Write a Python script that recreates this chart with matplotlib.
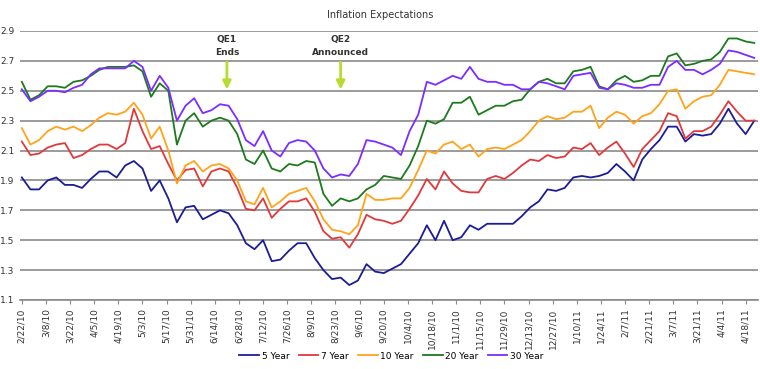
import numpy as np
import pandas as pd
import matplotlib
matplotlib.use("Agg")
import matplotlib.pyplot as plt
import matplotlib.dates as mdates

# sample dates, every 5 days from 2/22/10
dates = pd.date_range("2010-02-22", periods=86, freq="5D")

yr5 = [1.92, 1.84, 1.84, 1.90, 1.92, 1.87, 1.87, 1.85, 1.91, 1.96,
       1.96, 1.92, 2.00, 2.03, 1.98, 1.83, 1.90, 1.78, 1.62, 1.72,
       1.73, 1.64, 1.67, 1.70, 1.68, 1.60, 1.48, 1.44, 1.50, 1.36,
       1.37, 1.43, 1.48, 1.48, 1.38, 1.30, 1.24, 1.25, 1.20, 1.23,
       1.34, 1.29, 1.28, 1.31, 1.34, 1.41, 1.48, 1.60, 1.50, 1.63,
       1.50, 1.52, 1.60, 1.57, 1.61, 1.61, 1.61, 1.61, 1.66, 1.72,
       1.76, 1.84, 1.83, 1.85, 1.92, 1.93, 1.92, 1.93, 1.95, 2.01,
       1.96, 1.90, 2.04, 2.11, 2.17, 2.26, 2.26, 2.16, 2.21, 2.20,
       2.21, 2.28, 2.38, 2.28, 2.21, 2.30]

yr7 = [2.16, 2.07, 2.08, 2.12, 2.14, 2.15, 2.05, 2.07, 2.11, 2.14,
       2.14, 2.11, 2.15, 2.38, 2.23, 2.11, 2.13, 2.01, 1.90, 1.97,
       1.98, 1.86, 1.96, 1.98, 1.96, 1.85, 1.71, 1.70, 1.78, 1.65,
       1.71, 1.76, 1.76, 1.78, 1.69, 1.56, 1.51, 1.52, 1.45, 1.54,
       1.67, 1.64, 1.63, 1.61, 1.63, 1.71, 1.80, 1.91, 1.84, 1.96,
       1.88, 1.83, 1.82, 1.82, 1.91, 1.93, 1.91, 1.95, 2.00, 2.04,
       2.03, 2.07, 2.05, 2.06, 2.12, 2.11, 2.15, 2.07, 2.12, 2.16,
       2.08, 1.99, 2.11, 2.17, 2.23, 2.35, 2.33, 2.18, 2.23, 2.23,
       2.26, 2.34, 2.43, 2.36, 2.30, 2.30]

yr10 = [2.25, 2.14, 2.17, 2.23, 2.26, 2.24, 2.26, 2.23, 2.27, 2.32,
        2.35, 2.34, 2.36, 2.42, 2.34, 2.18, 2.26, 2.10, 1.88, 2.00,
        2.03, 1.96, 2.00, 2.01, 1.98, 1.90, 1.76, 1.74, 1.85, 1.72,
        1.76, 1.81, 1.83, 1.85, 1.76, 1.64, 1.57, 1.56, 1.54, 1.60,
        1.81, 1.77, 1.77, 1.78, 1.78, 1.85, 1.97, 2.10, 2.08, 2.14,
        2.16, 2.11, 2.14, 2.06, 2.11, 2.12, 2.11, 2.14, 2.17, 2.23,
        2.30, 2.33, 2.31, 2.32, 2.36, 2.36, 2.40, 2.25, 2.32, 2.36,
        2.34, 2.28, 2.33, 2.35, 2.41, 2.50, 2.51, 2.38, 2.43, 2.46,
        2.47, 2.54, 2.64, 2.63, 2.62, 2.61]

yr20 = [2.56, 2.44, 2.47, 2.53, 2.53, 2.52, 2.56, 2.57, 2.60, 2.64,
        2.66, 2.66, 2.66, 2.67, 2.63, 2.46, 2.55, 2.50, 2.14, 2.30,
        2.35, 2.26, 2.30, 2.32, 2.30, 2.21, 2.04, 2.01, 2.10, 1.98,
        1.96, 2.01, 2.00, 2.03, 2.02, 1.81, 1.73, 1.78, 1.76, 1.78,
        1.84, 1.87, 1.93, 1.92, 1.91, 2.00, 2.13, 2.30, 2.28, 2.31,
        2.42, 2.42, 2.46, 2.34, 2.37, 2.40, 2.40, 2.43, 2.44, 2.51,
        2.56, 2.58, 2.55, 2.55, 2.63, 2.64, 2.66, 2.53, 2.51, 2.57,
        2.60, 2.56, 2.57, 2.60, 2.60, 2.73, 2.75, 2.67, 2.68, 2.70,
        2.71, 2.76, 2.85, 2.85, 2.83, 2.82]

yr30 = [2.51, 2.43, 2.46, 2.50, 2.50, 2.49, 2.52, 2.54, 2.61, 2.65,
        2.65, 2.65, 2.65, 2.70, 2.66, 2.50, 2.60, 2.52, 2.30, 2.40,
        2.45, 2.35, 2.37, 2.41, 2.40, 2.31, 2.17, 2.13, 2.23, 2.10,
        2.06, 2.15, 2.17, 2.16, 2.10, 1.98, 1.92, 1.94, 1.93, 2.01,
        2.17, 2.16, 2.14, 2.12, 2.07, 2.23, 2.34, 2.56, 2.54, 2.57,
        2.60, 2.58, 2.66, 2.58, 2.56, 2.56, 2.54, 2.54, 2.51, 2.51,
        2.56, 2.55, 2.53, 2.51, 2.60, 2.61, 2.62, 2.52, 2.51, 2.55,
        2.54, 2.52, 2.52, 2.54, 2.54, 2.66, 2.70, 2.64, 2.64, 2.61,
        2.64, 2.68, 2.77, 2.76, 2.74, 2.72]

labels = ["5 Year", "7 Year", "10 Year", "20 Year", "30 Year"]
colors = ["#1c1c96", "#e0393b", "#ffa31a", "#1d7a1d", "#7b2cff"]

events = [("QE1\nEnds", "2010-06-21"), ("QE2\nAnnounced", "2010-08-26")]

start = pd.Timestamp("2010-02-22")
tick_dates = pd.date_range(start, "2011-04-18", freq="14D")

fig = plt.figure(figsize=(7.6, 3.69), dpi=100)
ax = fig.add_axes([0.026, 0.187, 0.971, 0.729])

for vals, lab, c in zip([yr5, yr7, yr10, yr20, yr30], labels, colors):
    ax.plot(dates, vals, color=c, lw=1.3, label=lab)

ax.set_ylim(1.1, 2.9)
ax.set_yticks(np.arange(1.1, 2.91, 0.2))
ax.set_yticklabels(["%.1f" % v for v in np.arange(1.1, 2.91, 0.2)])
ax.yaxis.grid(True, color="#8a8a8a", lw=1.2)
ax.set_axisbelow(True)
ax.set_xlim(start - pd.Timedelta(days=1.2), start + pd.Timedelta(days=427))
ax.set_xticks(tick_dates)
ax.set_xticklabels([f"{d.month}/{d.day}/{d.year % 100}" for d in tick_dates],
                   rotation=90, fontsize=6.5, color="#333333")
ax.tick_params(axis="y", length=0, labelsize=6.5, labelcolor="#333333", pad=4)
ax.tick_params(axis="x", length=3, color="#8a8a8a", pad=3)
for s in ["left", "right", "top"]:
    ax.spines[s].set_visible(False)
ax.spines["bottom"].set_color("#8a8a8a")
ax.spines["bottom"].set_linewidth(1.2)

for txt, d in events:
    d = pd.Timestamp(d)
    ax.annotate("", xy=(d, 2.49), xytext=(d, 2.71),
                arrowprops=dict(arrowstyle="-|>", color="#b5dc2e", lw=2,
                                mutation_scale=12))
    ax.text(d, 2.80, txt, ha="center", va="center", fontsize=6.5,
            fontweight="bold", color="#333333", linespacing=1.5)

fig.text(0.5, 0.96, "Inflation Expectations", ha="center", va="center",
         fontsize=7, color="#333333")
fig.legend(loc="center", bbox_to_anchor=(0.515, 0.035), ncol=5, frameon=False,
           fontsize=6.5, handlelength=2.2, columnspacing=1.0, handletextpad=0.3)

fig.savefig("out.png", dpi=100)
